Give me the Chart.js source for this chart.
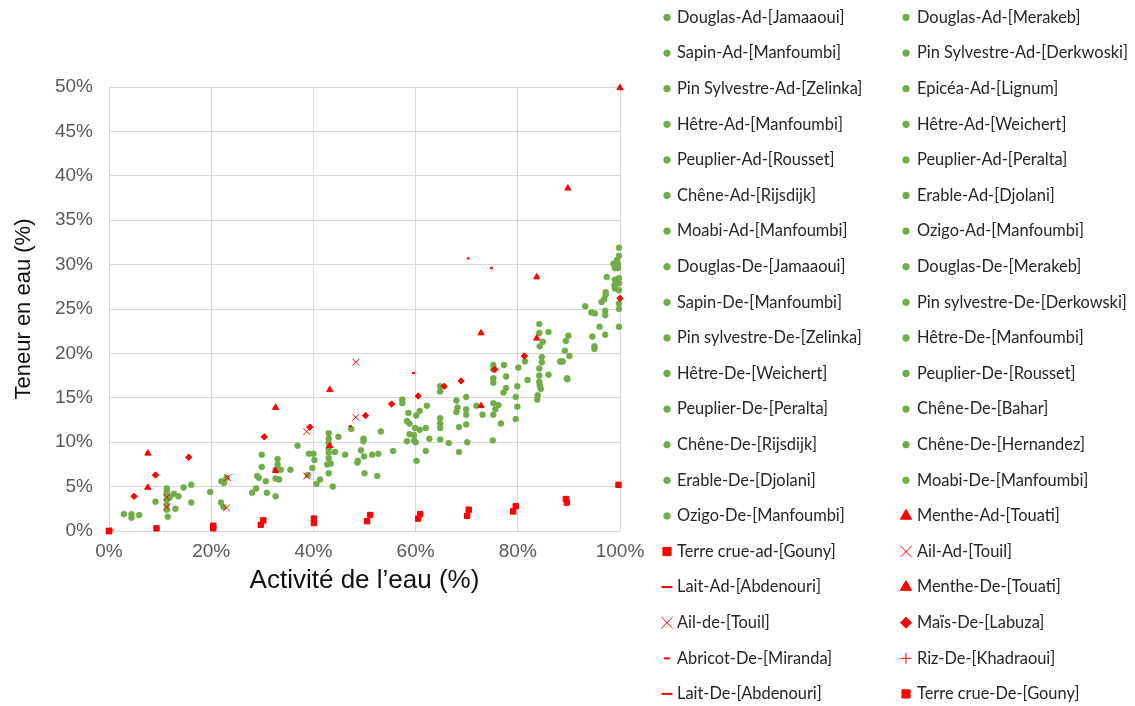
<!DOCTYPE html>
<html>
<head>
<meta charset="utf-8">
<script src="https://cdn.jsdelivr.net/npm/chart.js@4.4.0/dist/chart.umd.min.js"></script>
<style>
  html, body { margin: 0; padding: 0; background: #fff; }
  #wrap { width: 1135px; height: 706px; }
</style>
</head>
<body>
<div id="wrap"><canvas id="isothermChart" width="1135" height="706"></canvas></div>
<script>
// [activité de l'eau %, teneur en eau %]
const douglasAdJamaaoui = [[11.3,4.8],[33.0,8.1],[43.0,11.0],[57.4,14.8],[68.0,14.7],[75.2,18.7],[84.2,23.3],[99.8,31.9]];
const douglasAdMerakeb = [[11.3,4.4],[29.9,8.6],[43.0,10.4],[57.4,14.4],[69.9,15.1],[77.3,18.7],[84.2,22.3],[99.8,31.0]];
const sapinAdManfoumbi = [[11.3,4.1],[33.0,7.5],[43.0,9.9],[58.6,13.3],[68.2,13.9],[75.2,18.2],[86.0,22.4],[99.4,30.5]];
const pinAdDerkwoski = [[11.3,3.5],[32.6,6.9],[43.0,9.3],[60.8,13.5],[68.0,13.4],[77.7,17.4],[84.9,21.3],[98.7,30.1]];
const pinAdZelinka = [[11.3,2.9],[29.9,7.2],[43.0,8.8],[60.1,13.0],[69.9,13.7],[75.2,17.2],[84.3,20.8],[99.6,30.0]];
const epiceaAdLignum = [[11.3,2.4],[29.0,6.2],[43.0,8.2],[58.3,12.4],[69.9,13.1],[75.2,16.7],[84.7,19.6],[99.0,29.6]];
const hetreAdManfoumbi = [[11.5,1.6],[29.3,6.0],[42.7,7.5],[58.8,12.1],[69.9,12.0],[77.7,16.1],[84.7,19.0],[99.6,29.6]];
const hetreAdWeichert = [[11.9,3.8],[30.7,5.6],[43.4,7.6],[59.9,11.6],[71.9,14.1],[77.2,15.6],[84.2,18.3],[97.4,28.6]];
const peuplierAdRousset = [[12.7,4.2],[28.8,4.8],[43.0,6.5],[60.8,11.4],[73.1,13.1],[76.2,14.2],[84.2,17.5],[99.0,28.3]];
const peuplierAdPeralta = [[13.6,3.9],[28.0,4.3],[44.2,8.9],[62.0,11.6],[64.8,12.7],[75.6,13.7],[84.2,16.8],[99.8,28.5]];
const cheneAdRijsdijk = [[13.0,2.5],[30.9,4.3],[43.8,5.0],[58.8,10.9],[64.8,12.1],[75.2,13.1],[84.3,16.4],[98.9,27.7]];
const erableAdDjolani = [[14.6,4.9],[32.6,3.9],[44.9,10.6],[59.7,10.8],[64.8,11.6],[76.7,12.1],[84.5,16.0],[99.8,27.9]];
const moabiAdManfoumbi = [[16.1,5.2],[32.6,5.9],[39.1,8.7],[59.7,10.2],[64.8,10.3],[75.1,10.2],[83.9,15.3],[99.0,27.3]];
const ozigoAdManfoumbi = [[16.1,3.2],[33.3,5.8],[40.0,8.7],[58.3,10.1],[66.5,9.9],[75.2,14.4],[83.8,14.8],[99.8,27.1]];
const douglasDeJamaaoui = [[9.1,3.3],[33.6,6.9],[40.2,8.0],[60.0,10.0],[68.5,11.7],[79.6,15.1],[86.0,17.6],[97.2,26.9]];
const douglasDeMerakeb = [[2.9,1.9],[35.5,6.9],[39.8,7.1],[62.7,10.4],[68.5,8.9],[79.9,14.0],[89.9,22.0],[97.2,26.6]];
const sapinDeManfoumbi = [[4.4,1.9],[36.9,9.6],[38.9,6.3],[62.0,9.0],[70.1,10.0],[79.6,12.6],[89.4,21.4],[96.4,25.8]];
const pinDeDerkowski = [[4.4,1.5],[19.8,4.4],[41.3,5.8],[60.2,7.9],[62.2,14.1],[79.9,16.3],[89.2,20.3],[96.9,26.1]];
const pinDeZelinka = [[5.9,1.8],[22.0,5.6],[40.6,5.3],[55.6,9.0],[64.8,16.3],[80.1,18.4],[90.1,19.7],[99.8,25.6]];
const hetreDeManfoumbi = [[22.5,5.4],[46.2,8.6],[53.2,11.2],[64.8,15.7],[81.4,19.1],[88.3,19.1],[99.8,25.0]];
const hetreDeWeichert = [[21.9,3.2],[47.4,11.5],[52.7,8.7],[81.9,17.0],[88.8,19.1],[93.2,25.3]];
const peuplierDeRousset = [[22.4,2.7],[48.7,7.9],[51.5,8.6],[89.7,17.1],[94.4,24.6]];
const peuplierDePeralta = [[23.0,6.0],[49.8,10.4],[52.5,6.2],[95.1,24.5]];
const cheneDeBahar = [[49.8,10.1],[97.1,24.8],[97.1,24.3]];
const cheneDeRijsdijk = [[49.3,9.1],[99.8,23.0],[96.0,23.0]];
const cheneDeHernandez = [[49.9,8.4],[94.6,21.9],[95.0,20.8]];
const erableDeDjolani = [[50.0,6.5],[97.1,22.1]];
const moabiDeManfoumbi = [[48.6,7.7],[95.0,20.5]];
const ozigoDeManfoumbi = [[89.6,17.2],[88.4,19.1]];

const mentheAdTouati = [[7.6,4.9],[32.6,6.8],[43.2,9.6],[72.8,14.1],[83.7,21.7]];
const terreCrueAdGouny = [[0,0],[9.3,0.3],[20.4,0.3],[29.7,0.7],[40.1,0.9],[50.5,1.1],[60.5,1.4],[70.1,1.7],[79.1,2.2],[89.6,3.2]];
const ailAdTouil = [[11.3,2.7],[23.0,2.6],[38.7,6.2],[48.3,12.8]];
const laitAdAbdenouri = [[70.3,30.7]];
const mentheDeTouati = [[7.6,8.75],[32.6,13.9],[43.2,15.9],[72.8,22.3],[83.7,28.6],[89.8,38.6],[100,49.9]];
const ailDeTouil = [[11.3,3.8],[23.2,6.0],[38.7,11.2],[48.3,19.0]];
const maisDeLabuza = [[4.9,3.9],[9.1,6.3],[15.6,8.3],[30.4,10.6],[39.3,11.7],[50.2,13.0],[55.3,14.3],[60.5,15.2],[65.6,16.3],[68.9,16.9],[75.5,18.2],[81.3,19.7],[100,26.2]];
const abricotDeMiranda = [[47.2,11.8],[59.6,17.8]];
const rizDeKhadraoui = [[0.4,0.1]];
const laitDeAbdenouri = [[74.8,29.6]];
const terreCrueDeGouny = [[0,0],[20.4,0.6],[30.2,1.2],[40.1,1.4],[51.1,1.8],[60.9,1.9],[70.4,2.4],[79.6,2.8],[89.4,3.6],[99.7,5.2]];

const xTicks = [0, 20, 40, 60, 80, 100];
const yTicks = [0, 5, 10, 15, 20, 25, 30, 35, 40, 45, 50];

const GREEN = '#70AD47';
const RED = '#FF0000';

const woodSeries = [
    ['Douglas-Ad-[Jamaaoui]', douglasAdJamaaoui],
    ['Douglas-Ad-[Merakeb]', douglasAdMerakeb],
    ['Sapin-Ad-[Manfoumbi]', sapinAdManfoumbi],
    ['Pin Sylvestre-Ad-[Derkwoski]', pinAdDerkwoski],
    ['Pin Sylvestre-Ad-[Zelinka]', pinAdZelinka],
    ['Epicéa-Ad-[Lignum]', epiceaAdLignum],
    ['Hêtre-Ad-[Manfoumbi]', hetreAdManfoumbi],
    ['Hêtre-Ad-[Weichert]', hetreAdWeichert],
    ['Peuplier-Ad-[Rousset]', peuplierAdRousset],
    ['Peuplier-Ad-[Peralta]', peuplierAdPeralta],
    ['Chêne-Ad-[Rijsdijk]', cheneAdRijsdijk],
    ['Erable-Ad-[Djolani]', erableAdDjolani],
    ['Moabi-Ad-[Manfoumbi]', moabiAdManfoumbi],
    ['Ozigo-Ad-[Manfoumbi]', ozigoAdManfoumbi],
    ['Douglas-De-[Jamaaoui]', douglasDeJamaaoui],
    ['Douglas-De-[Merakeb]', douglasDeMerakeb],
    ['Sapin-De-[Manfoumbi]', sapinDeManfoumbi],
    ['Pin sylvestre-De-[Derkowski]', pinDeDerkowski],
    ['Pin sylvestre-De-[Zelinka]', pinDeZelinka],
    ['Hêtre-De-[Manfoumbi]', hetreDeManfoumbi],
    ['Hêtre-De-[Weichert]', hetreDeWeichert],
    ['Peuplier-De-[Rousset]', peuplierDeRousset],
    ['Peuplier-De-[Peralta]', peuplierDePeralta],
    ['Chêne-De-[Bahar]', cheneDeBahar],
    ['Chêne-De-[Rijsdijk]', cheneDeRijsdijk],
    ['Chêne-De-[Hernandez]', cheneDeHernandez],
    ['Erable-De-[Djolani]', erableDeDjolani],
    ['Moabi-De-[Manfoumbi]', moabiDeManfoumbi],
    ['Ozigo-De-[Manfoumbi]', ozigoDeManfoumbi]
];

// label, data, point style, plot radius, legend radius, line width
const otherSeries = [
    ['Menthe-Ad-[Touati]', mentheAdTouati, 'triangle', 3.6, 6.5, 1],
    ['Terre crue-ad-[Gouny]', terreCrueAdGouny, 'rect', 3.8, 5.8, 1],
    ['Ail-Ad-[Touil]', ailAdTouil, 'crossRot', 4.8, 8, 1],
    ['Lait-Ad-[Abdenouri]', laitAdAbdenouri, 'line', 1.5, 5.5, 2],
    ['Menthe-De-[Touati]', mentheDeTouati, 'triangle', 3.6, 6.5, 1],
    ['Ail-de-[Touil]', ailDeTouil, 'crossRot', 4.8, 8, 1],
    ['Maïs-De-[Labuza]', maisDeLabuza, 'rectRot', 3.2, 5.5, 1],
    ['Abricot-De-[Miranda]', abricotDeMiranda, 'line', 1.5, 3, 2],
    ['Riz-De-[Khadraoui]', rizDeKhadraoui, 'cross', 3, 5.5, 1],
    ['Lait-De-[Abdenouri]', laitDeAbdenouri, 'line', 1.5, 5.5, 2],
    ['Terre crue-De-[Gouny]', terreCrueDeGouny, 'rect', 3.8, 5.8, 1]
];

const toPoints = arr => arr.map(p => ({ x: p[0], y: p[1] }));

const datasets = [];
woodSeries.forEach(s => {
    datasets.push({
        label: s[0],
        data: toPoints(s[1]),
        pointStyle: 'circle',
        pointRadius: 3,
        pointBackgroundColor: GREEN,
        pointBorderColor: GREEN,
        pointBorderWidth: 0.5,
        legendRadius: 3.4,
        legendLine: 0.5,
        clip: false,
        order: 2
    });
});
otherSeries.forEach(s => {
    datasets.push({
        label: s[0],
        data: toPoints(s[1]),
        pointStyle: s[2],
        pointRadius: s[3],
        pointBackgroundColor: RED,
        pointBorderColor: RED,
        pointBorderWidth: s[5],
        legendRadius: s[4],
        legendLine: s[5],
        clip: false,
        order: 1
    });
});

// two-column legend, row by row like the original
const legendGrid = {
    id: 'legendGrid',
    afterDraw(chart) {
        const ctx = chart.ctx;
        ctx.save();
        ctx.font = '16.4px Lato';
        ctx.textBaseline = 'middle';
        chart.data.datasets.forEach((ds, i) => {
            const col = i % 2;
            const row = Math.floor(i / 2);
            const mx = col ? 906 : 667;
            const y = 17.5 + row * 35.6;
            ctx.fillStyle = ds.pointBackgroundColor;
            ctx.strokeStyle = ds.pointBorderColor;
            ctx.lineWidth = ds.legendLine;
            Chart.helpers.drawPoint(ctx, {
                pointStyle: ds.pointStyle,
                radius: ds.legendRadius,
                borderWidth: ds.legendLine,
                rotation: 0
            }, mx, y);
            ctx.fillStyle = '#262626';
            ctx.fillText(ds.label, col ? 917 : 677, y);
        });
        ctx.restore();
    }
};

const ctx = document.getElementById('isothermChart').getContext('2d');

new Chart(ctx, {
    type: 'scatter',
    data: { datasets: datasets },
    options: {
        responsive: false,
        animation: false,
        layout: { padding: { top: 87, right: 515, bottom: 0, left: 0 } },
        plugins: {
            legend: { display: false },
            tooltip: { enabled: false }
        },
        scales: {
            x: {
                type: 'linear',
                min: 0,
                max: 100,
                afterBuildTicks: axis => { axis.ticks = xTicks.map(v => ({ value: v })); },
                afterFit: axis => { axis.height = 175; },
                grid: { color: '#d9d9d9', lineWidth: 1, drawTicks: false },
                border: { color: '#d9d9d9' },
                ticks: {
                    padding: 9,
                    color: '#595959',
                    font: { family: 'Liberation Sans', size: 19 },
                    callback: v => v + '%'
                },
                title: {
                    display: true,
                    text: 'Activité de l’eau (%)',
                    color: '#111111',
                    font: { family: 'Liberation Sans', size: 26 },
                    padding: { top: 0, bottom: 110 }
                }
            },
            y: {
                type: 'linear',
                min: 0,
                max: 50,
                afterBuildTicks: axis => { axis.ticks = yTicks.map(v => ({ value: v })); },
                afterFit: axis => { axis.width = 109; },
                grid: { color: '#d9d9d9', lineWidth: 1, drawTicks: false },
                border: { color: '#d9d9d9' },
                ticks: {
                    padding: 16,
                    color: '#595959',
                    font: { family: 'Liberation Sans', size: 19 },
                    callback: v => v + '%'
                },
                title: {
                    display: true,
                    text: 'Teneur en eau (%)',
                    color: '#111111',
                    font: { family: 'Liberation Sans', size: 22 },
                    padding: { top: 11, bottom: 0 }
                }
            }
        }
    },
    plugins: [legendGrid]
});
</script>
</body>
</html>
